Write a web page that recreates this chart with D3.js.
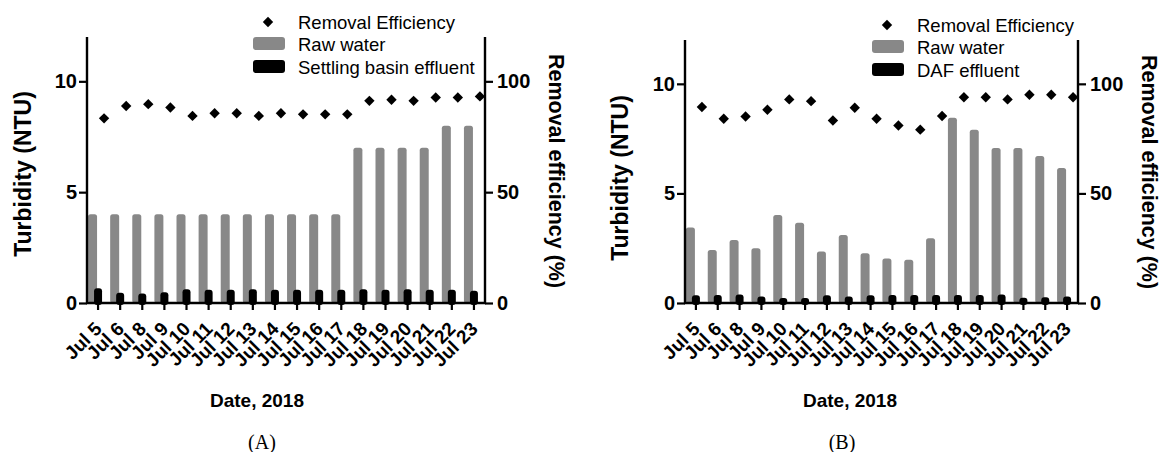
<!DOCTYPE html>
<html>
<head>
<meta charset="utf-8">
<script src="https://cdn.jsdelivr.net/npm/d3@7"></script>
<style>
  body { margin: 0; background: #fff; }
  svg { display: block; }
</style>
</head>
<body>
<svg id="chart" width="1163" height="452"></svg>
<script>
// dates on the x axis (no Jul 7)
const dates = ["Jul 5", "Jul 6", "Jul 8", "Jul 9", "Jul 10", "Jul 11", "Jul 12", "Jul 13", "Jul 14",
  "Jul 15", "Jul 16", "Jul 17", "Jul 18", "Jul 19", "Jul 20", "Jul 21", "Jul 22", "Jul 23"];

// panel A: settling basin
const rawA = [4, 4, 4, 4, 4, 4, 4, 4, 4, 4, 4, 4, 7, 7, 7, 7, 8, 8];
const effA = [0.66, 0.46, 0.43, 0.48, 0.62, 0.6, 0.6, 0.62, 0.6, 0.6, 0.6, 0.6, 0.62, 0.6, 0.62, 0.6, 0.6, 0.55];
const reA = [83.3, 88.9, 89.7, 88.2, 84.4, 85.6, 85.6, 84.4, 85.6, 85.1, 85.1, 85.1, 91.2, 91.7, 91.2, 92.7, 92.7, 93.2];

// panel B: DAF
const rawB = [3.44, 2.42, 2.88, 2.5, 4.01, 3.66, 2.35, 3.1, 2.27, 2.03, 1.97, 2.95, 8.45, 7.9, 7.07, 7.07, 6.71, 6.16];
const effB = [0.35, 0.36, 0.39, 0.3, 0.23, 0.23, 0.35, 0.3, 0.35, 0.36, 0.36, 0.36, 0.36, 0.36, 0.39, 0.24, 0.26, 0.3];
const reB = [89.4, 84.1, 85.1, 88.2, 92.9, 92.1, 83.3, 89.1, 84.1, 81.0, 79.1, 85.3, 93.9, 93.9, 92.9, 95.0, 95.0, 93.9];

const leftTicks = [0, 5, 10];
const rightTicks = [0, 50, 100];

const svg = d3.select("#chart");
const sans = "'Liberation Sans', Arial, sans-serif";
const gray = "#888888";

function drawPanel(o) {
  const g = svg.append("g");
  const x = d3.scaleBand().domain(dates).range([o.left, o.right]);
  const y = d3.scaleLinear().domain([0, 12]).range([o.bottom, o.top]);
  const y2 = d3.scaleLinear().domain([0, 120]).range([o.bottom, o.top]);
  const bw = x.bandwidth();
  const cx = d => x(d) + bw / 2;

  // raw water bars
  g.append("g").selectAll("rect").data(dates).join("rect")
    .attr("x", d => cx(d) - 10).attr("width", 9)
    .attr("y", (d, i) => y(o.raw[i])).attr("height", (d, i) => y(0) - y(o.raw[i]))
    .attr("rx", 2.5).attr("fill", gray);
  // effluent bars
  g.append("g").selectAll("rect").data(dates).join("rect")
    .attr("x", d => cx(d) - 4).attr("width", 8)
    .attr("y", (d, i) => y(o.eff[i])).attr("height", (d, i) => y(0) - y(o.eff[i]) + 2)
    .attr("rx", 3).attr("fill", "#000");
  // removal efficiency
  const diamond = d3.symbol().type(d3.symbolSquare).size(54);
  g.append("g").selectAll("path").data(dates).join("path")
    .attr("d", diamond)
    .attr("transform", (d, i) => `translate(${cx(d) + 6},${y2(o.re[i])}) rotate(45)`)
    .attr("fill", "#000");

  // axes
  const ax = g.append("g").attr("transform", `translate(${o.left},0)`)
    .call(d3.axisLeft(y).tickValues(leftTicks).tickSize(8).tickPadding(2));
  const ax2 = g.append("g").attr("transform", `translate(${o.right},0)`)
    .call(d3.axisRight(y2).tickValues(rightTicks).tickSize(8).tickPadding(4));
  const axb = g.append("g").attr("transform", `translate(0,${o.bottom})`)
    .call(d3.axisBottom(x).tickSize(7).tickFormat(() => ""));
  [ax, ax2, axb].forEach(a => {
    a.select(".domain").attr("stroke", "#000").attr("stroke-width", 2.4);
    a.selectAll(".tick line").attr("stroke", "#000").attr("stroke-width", 2.2);
  });
  axb.select(".domain").attr("d", `M${o.left - 1},0H${o.right + 1}`);
  ax.select(".domain").attr("d", `M0,${o.top}V${o.bottom}`);
  ax2.select(".domain").attr("d", `M0,${o.top}V${o.bottom}`);
  [ax, ax2].forEach(a => a.selectAll(".tick text")
    .attr("font-family", sans).attr("font-size", 20).attr("font-weight", "bold").attr("fill", "#000"));

  // rotated date labels
  g.append("g").selectAll("text").data(dates).join("text")
    .attr("transform", d => `translate(${cx(d) + 5},${o.bottom + 27}) rotate(-45)`)
    .attr("text-anchor", "end")
    .attr("font-family", sans).attr("font-size", 19).attr("font-weight", "bold")
    .text(d => d);

  // axis titles
  g.append("text")
    .attr("transform", `translate(${o.ltx},${o.lty}) rotate(-90)`)
    .attr("text-anchor", "middle").attr("dy", "0.35em")
    .attr("font-family", sans).attr("font-size", 23).attr("font-weight", "bold")
    .text("Turbidity (NTU)");
  g.append("text")
    .attr("transform", `translate(${o.rtx},${o.rty}) rotate(90)`)
    .attr("text-anchor", "middle").attr("dy", "0.35em")
    .attr("font-family", sans).attr("font-size", 21.5).attr("font-weight", "bold")
    .text("Removal efficiency (%)");
  g.append("text")
    .attr("x", o.dateX).attr("y", 407)
    .attr("text-anchor", "middle")
    .attr("font-family", sans).attr("font-size", 19).attr("font-weight", "bold")
    .text("Date, 2018");
  g.append("text")
    .attr("x", o.capX).attr("y", 449)
    .attr("text-anchor", "middle")
    .attr("font-family", "'Liberation Serif', 'Times New Roman', serif").attr("font-size", 20)
    .text(o.caption);

  // legend
  const lg = g.append("g").attr("font-family", sans).attr("font-size", 18.5);
  lg.append("path").attr("d", diamond)
    .attr("transform", `translate(${o.lgX + 15},${o.lgY}) rotate(45)`);
  lg.append("rect").attr("x", o.lgX).attr("y", o.lgY + 15).attr("width", 32).attr("height", 13)
    .attr("rx", 3).attr("fill", gray);
  lg.append("rect").attr("x", o.lgX).attr("y", o.lgY + 38).attr("width", 32).attr("height", 13)
    .attr("rx", 3).attr("fill", "#000");
  const labels = ["Removal Efficiency", "Raw water", o.effName];
  lg.selectAll("text").data(labels).join("text")
    .attr("x", o.lgX + 45).attr("y", (d, i) => o.lgY + 6.5 + i * 22.5)
    .text(d => d);
}

drawPanel({
  left: 87, right: 485, top: 37, bottom: 303,
  raw: rawA, eff: effA, re: reA,
  ltx: 23, lty: 174, rtx: 557, rty: 171,
  dateX: 257, capX: 262, caption: "(A)",
  lgX: 253, lgY: 22, effName: "Settling basin effluent"
});
drawPanel({
  left: 685, right: 1078, top: 40, bottom: 303,
  raw: rawB, eff: effB, re: reB,
  ltx: 620, lty: 178, rtx: 1150, rty: 172,
  dateX: 850, capX: 842, caption: "(B)",
  lgX: 872, lgY: 25, effName: "DAF effluent"
});
</script>
</body>
</html>
